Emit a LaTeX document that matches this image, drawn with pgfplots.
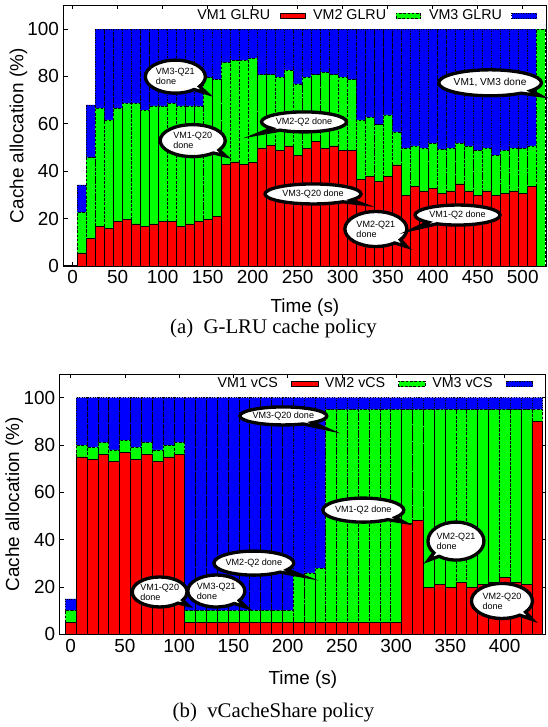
\documentclass[border=0pt]{standalone}
\usepackage{fontspec}
\setmainfont{Liberation Serif}
\setsansfont{Liberation Sans}
\usepackage{pgfplots}
\usepackage{pgfplotstable}
\pgfplotsset{compat=1.18}
\usetikzlibrary{shapes.callouts}

% t, VM1 (red), VM2 (green), VM3 (blue) shares in %
\pgfplotstableread{
t   r     g     b
10  5.5   17.2  11.5
20  11.8  33.9  22.3
30  16.8  49.8  33.4
40  15.9  45.8  38.3
50  18.8  47.8  33.4
60  19.6  49.0  31.4
70  17.8  50.8  31.4
80  16.8  49.0  34.2
90  17.8  49.8  32.4
100 18.8  48.8  32.4
110 18.8  49.8  31.4
120 16.8  50.8  32.4
130 17.8  49.8  32.4
140 18.8  48.8  32.4
150 19.6  60.0  20.4
160 20.8  57.8  21.4
170 42.8  43.0  14.2
180 43.9  42.9  13.2
190 42.8  44.0  13.2
200 43.8  43.9  12.3
210 49.8  30.9  19.3
220 50.8  29.9  19.3
230 48.7  31.0  20.3
240 50.7  32.0  17.3
250 46.6  30.2  23.2
260 49.7  30.0  20.3
270 52.7  28.0  19.3
280 49.7  32.1  18.2
290 50.7  30.0  19.3
300 48.7  31.0  20.3
310 48.7  29.9  21.4
320 36.6  25.1  38.3
330 37.7  25.0  37.3
340 35.6  24.0  40.4
350 37.7  26.1  36.2
360 42.7  13.9  43.4
370 29.7  20.0  50.3
380 33.7  17.0  49.3
390 31.7  18.0  50.3
400 32.7  19.0  48.3
410 30.7  18.5  50.8
420 31.7  18.0  50.3
430 34.6  17.1  48.3
440 31.7  19.0  49.3
450 29.7  19.0  51.3
460 31.7  18.0  50.3
470 29.7  17.1  53.2
480 30.7  18.0  51.3
490 31.7  18.0  50.3
500 30.7  19.0  50.3
510 33.7  17.0  49.3
520 0     100   0
}\glru

\pgfplotstableread{
t   r   g   b
0   5   5   5
10  75  5   20
20  74  5   21
30  76  5   19
40  73  5   22
50  77  5   18
60  74  5   21
70  76  5   19
80  73  5   22
90  75  5   20
100 76  5   19
110 5   5   90
120 5   5   90
130 5   5   90
140 5   5   90
150 5   5   90
160 5   5   90
170 5   5   90
180 5   5   90
190 5   5   90
200 5   5   90
210 5   20  75
220 5   21  74
230 5   23  72
240 5   90  5
250 5   90  5
260 5   90  5
270 5   90  5
280 5   90  5
290 5   90  5
300 5   90  5
310 47  48  5
320 48  47  5
330 20  75  5
340 21  74  5
350 20  75  5
360 22  73  5
370 20  75  5
380 21  74  5
390 22  73  5
400 24  71  5
410 22  73  5
420 21  74  5
430 90  5   5
}\vcs

\pgfplotsset{
  gp/.style={
    scale only axis,
    ybar stacked, bar width=10, bar shift=0pt,
    ymin=0, ymax=110, ytick={0,20,...,100},
    xmin=-10,
    tick align=inside, major tick length=3pt,
    tick style={black, line width=0.5pt},
    axis line style={line width=0.8pt},
    font=\sffamily\fontsize{14.2}{16}\selectfont,
    /pgf/number format/assume math mode=true,
    xlabel={Time (s)}, ylabel={Cache allocation (\%)},
    every axis x label/.style={at={(axis description cs:0.5,0)}, anchor=center},
    every axis y label/.style={at={(axis description cs:-0.094,0.5)}, rotate=90, anchor=center},
    legend columns=3, legend plot pos=right,
    legend style={draw=none, fill=none, inner sep=0pt, column sep=0pt,
      nodes={inner sep=0pt}, anchor=east,
      font=\sffamily\fontsize{10.7}{12}\selectfont},
  },
  % gnuplot-like key sample: gap, box, gap
  swA/.style={legend image code/.code={
    \path[draw=none, fill=none] (0pt,0pt) rectangle (32.2pt,1pt);
    \draw[##1] (7.3pt,-2pt) rectangle (26pt,2pt);}},
  swB/.style={legend image code/.code={
    \path[draw=none, fill=none] (0pt,0pt) rectangle (35.3pt,1pt);
    \draw[##1] (10pt,-2.1pt) rectangle (30pt,2.1pt);}},
  vm1/.style={fill=red, draw=black, line width=0.4pt},
  vm2/.style={fill=green, draw=black, line width=0.4pt, dash pattern=on 2pt off 1.2pt},
  vm3/.style={fill=blue, draw=black, line width=0.4pt, dash pattern=on 0.8pt off 1pt},
}
\tikzset{
  bubble/.style={ellipse callout, draw=black, line width=2.5pt, fill=white,
    inner sep=0pt, align=left, font=\sffamily\fontsize{6.8}{7.6}\selectfont},
}

\begin{document}
\begin{tikzpicture}
\path[use as bounding box] (0,0) rectangle (410.25pt,545.25pt);

\begin{axis}[gp, at={(47.8pt,345.75pt)}, anchor=south west,
  width=361.8pt, height=195.5pt, xmax=526, xtick={0,50,...,500},
  xlabel style={yshift=-31.5pt},
  legend style={at={(rel axis cs:1,0.959)}, xshift=-0.75pt}]
\addplot[vm1, swA] table[x=t, y=r] {\glru};
\addplot[vm2, swA] table[x=t, y=g] {\glru};
\addplot[vm3, swA] table[x=t, y=b] {\glru};
\legend{VM1 GLRU, VM2 GLRU, VM3 GLRU}
\coordinate (a1) at (axis cs:114,79.9);   \coordinate (a1p) at (axis cs:149,72.9);
\coordinate (a2) at (axis cs:133.3,52.9); \coordinate (a2p) at (axis cs:169.6,46.5);
\coordinate (a3) at (axis cs:257,60.8);   \coordinate (a3p) at (axis cs:206,55.7);
\coordinate (a4) at (axis cs:267,30.4);   \coordinate (a4p) at (axis cs:321.4,26.2);
\coordinate (a5) at (axis cs:336.8,15.6); \coordinate (a5p) at (axis cs:371,8.2);
\coordinate (a6) at (axis cs:427.6,21.5); \coordinate (a6p) at (axis cs:379,15.6);
\coordinate (a7) at (axis cs:463.7,77.3); \coordinate (a7p) at (axis cs:519.2,71.9);
\end{axis}

\begin{axis}[gp, at={(44.9pt,69.5pt)}, anchor=south west,
  width=364.5pt, height=195.2pt, xmax=438, xtick={0,50,...,400},
  xlabel style={yshift=-34.3pt},
  legend style={at={(rel axis cs:1,0.962)}, xshift=-4.5pt}]
\addplot[vm1, swB] table[x=t, y=r] {\vcs};
\addplot[vm2, swB] table[x=t, y=g] {\vcs};
\addplot[vm3, swB] table[x=t, y=b] {\vcs};
\legend{VM1 vCS, VM2 vCS, VM3 vCS}
\coordinate (b1) at (axis cs:82,17.9);    \coordinate (b1p) at (axis cs:108,12.3);
\coordinate (b2) at (axis cs:134.2,18.3); \coordinate (b2p) at (axis cs:161.8,11.5);
\coordinate (b3) at (axis cs:168.8,30.1); \coordinate (b3p) at (axis cs:214.2,24.6);
\coordinate (b4) at (axis cs:196,92.3);   \coordinate (b4p) at (axis cs:235.3,86.9);
\coordinate (b5) at (axis cs:269.7,52.5); \coordinate (b5p) at (axis cs:307,47.4);
\coordinate (b6) at (axis cs:355.1,39.4); \coordinate (b6p) at (axis cs:329.6,31.3);
\coordinate (b7) at (axis cs:397.5,14.1); \coordinate (b7p) at (axis cs:425.4,6.3);
\end{axis}

% speech bubbles
\node[bubble, minimum width=45pt, minimum height=24.75pt, callout absolute pointer={(a1p)}] at (a1) {VM3-Q21\\done};
\node[bubble, minimum width=48.75pt, minimum height=24pt, callout absolute pointer={(a2p)}] at (a2) {VM1-Q20\\done};
\node[bubble, minimum width=63.75pt, minimum height=15pt, callout absolute pointer={(a3p)}] at (a3) {VM2-Q2 done};
\node[bubble, minimum width=72pt, minimum height=15pt, callout absolute pointer={(a4p)}] at (a4) {VM3-Q20 done};
\node[bubble, minimum width=46.5pt, minimum height=26.25pt, callout absolute pointer={(a5p)}] at (a5) {VM2-Q21\\done};
\node[bubble, minimum width=63.75pt, minimum height=15pt, callout absolute pointer={(a6p)}] at (a6) {VM1-Q2 done};
\node[bubble, minimum width=75pt, minimum height=19.5pt, font=\sffamily\fontsize{7.6}{8.5}\selectfont,
  callout absolute pointer={(a7p)}] at (a7) {VM1, VM3 done};

\node[bubble, minimum width=39.75pt, minimum height=22.5pt, callout absolute pointer={(b1p)}] at (b1) {VM1-Q20\\done};
\node[bubble, minimum width=42.75pt, minimum height=24pt, callout absolute pointer={(b2p)}] at (b2) {VM3-Q21\\done};
\node[bubble, minimum width=58.5pt, minimum height=18pt, callout absolute pointer={(b3p)}] at (b3) {VM2-Q2 done};
\node[bubble, minimum width=63.75pt, minimum height=13.5pt, callout absolute pointer={(b4p)}] at (b4) {VM3-Q20 done};
\node[bubble, minimum width=60.75pt, minimum height=18pt, callout absolute pointer={(b5p)}] at (b5) {VM1-Q2 done};
\node[bubble, minimum width=42pt, minimum height=28.5pt, callout absolute pointer={(b6p)}] at (b6) {VM2-Q21\\done};
\node[bubble, minimum width=45.75pt, minimum height=26.25pt, callout absolute pointer={(b7p)}] at (b7) {VM2-Q20\\done};

\node[anchor=base, font=\rmfamily\fontsize{15.6}{18}\selectfont] at (205.1pt,294.75pt) {(a)\enspace G-LRU cache policy};
\node[anchor=base, font=\rmfamily\fontsize{15.6}{18}\selectfont] at (205.1pt,6.75pt) {(b)\enspace vCacheShare policy};
\end{tikzpicture}
\end{document}
